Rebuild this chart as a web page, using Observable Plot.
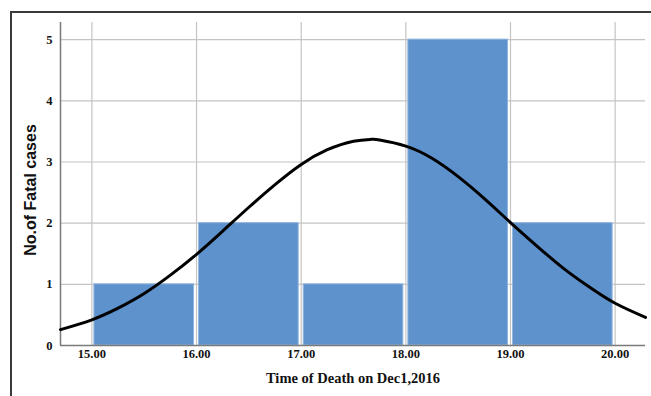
<!DOCTYPE html>
<html>
<head>
<meta charset="utf-8">
<script src="https://cdn.jsdelivr.net/npm/d3@7"></script>
<script src="https://cdn.jsdelivr.net/npm/@observablehq/plot@0.6"></script>
<style>
  html, body { margin: 0; padding: 0; background: #fff; }
  #wrap { position: relative; width: 651px; height: 396px; overflow: hidden; }
  #border { position: absolute; left: 10px; top: 11px; right: -5px; bottom: -5px;
            border-left: 2px solid #3a3a3a; border-top: 2px solid #3a3a3a; pointer-events: none; }
</style>
</head>
<body>
<div id="wrap"><div id="border"></div></div>
<script>
// Histogram bins (hour of death) and counts
const binStart = [15, 16, 17, 18, 19];
const binEnd   = [16, 17, 18, 19, 20];
const counts   = [1, 2, 1, 5, 2];

// Fitted normal curve
const curveX = [14.70, 15.00, 15.25, 15.50, 15.75, 16.00, 16.25, 16.50, 16.75, 17.00, 17.25, 17.50, 17.67, 17.75, 18.00, 18.25, 18.50, 18.75, 19.00, 19.25, 19.50, 19.75, 20.00, 20.29];
const curveY = [0.26, 0.42, 0.61, 0.85, 1.15, 1.49, 1.87, 2.26, 2.63, 2.96, 3.20, 3.34, 3.37, 3.36, 3.26, 3.06, 2.76, 2.40, 2.01, 1.63, 1.27, 0.96, 0.69, 0.46];

const xTicks = [15, 16, 17, 18, 19, 20];
const yTicks = [0, 1, 2, 3, 4, 5];
const xTitle = "Time of Death on Dec1,2016";
const yTitle = "No.of Fatal cases";

const bins = binStart.map((s, i) => ({x1: s, x2: binEnd[i], y: counts[i]}));
const curve = curveX.map((x, i) => ({x, y: curveY[i]}));

const xDomain = [14.70, 20.29];
const yDomain = [0, 5.28];

const chart = Plot.plot({
  width: 651,
  height: 396,
  marginLeft: 60,
  marginRight: 6,
  marginTop: 22,
  marginBottom: 51,
  style: {fontFamily: "'Liberation Serif', 'Times New Roman', serif", fontWeight: "bold", fontSize: "12.5px", color: "#111", background: "transparent"},
  x: {domain: xDomain},
  y: {domain: yDomain},
  marks: [
    Plot.gridX(xTicks, {stroke: "#c4c4c4", strokeOpacity: 1, strokeWidth: 1.2}),
    Plot.gridY(yTicks.filter(d => d > 0), {stroke: "#c4c4c4", strokeOpacity: 1, strokeWidth: 1.2}),
    Plot.rectY(bins, {x1: "x1", x2: "x2", y: "y", fill: "#5d92cc", stroke: "#93b6de", strokeWidth: 1, insetLeft: 2.5, insetRight: 2.5}),
    Plot.ruleX([xDomain[0]], {stroke: "#7a7a7a", strokeWidth: 1.5}),
    Plot.ruleY([0], {stroke: "#7a7a7a", strokeWidth: 1.5}),
    Plot.line(curve, {x: "x", y: "y", curve: "natural", stroke: "#000", strokeWidth: 3}),
    Plot.axisX(xTicks, {tickSize: 0, tickPadding: 4, tickFormat: d => d.toFixed(2), label: null, fontSize: 12.5}),
    Plot.axisY(yTicks, {tickSize: 0, tickPadding: 8, tickFormat: d => String(d), label: null, fontSize: 12.5}),
    Plot.text([xTitle], {frameAnchor: "bottom", dy: 37, fontSize: 14.5, fontWeight: "bold", fontFamily: "'Liberation Serif', serif", fill: "#111"}),
    Plot.text([yTitle], {frameAnchor: "left", textAnchor: "middle", rotate: -90, dx: -30, dy: 6, fontSize: 16, fontWeight: "bold", fontFamily: "'Liberation Sans', Arial, sans-serif", fill: "#111"})
  ]
});
document.getElementById("wrap").appendChild(chart);
chart.style.position = "absolute";
chart.style.left = "0";
chart.style.top = "0";
</script>
</body>
</html>
